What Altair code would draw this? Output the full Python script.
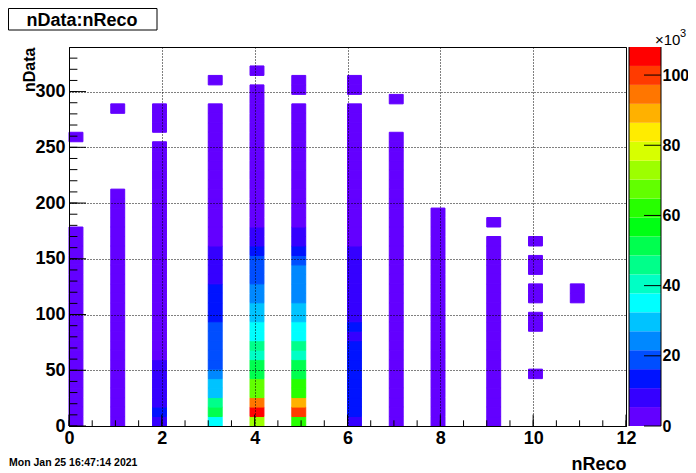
import altair as alt
import pandas as pd
import numpy as np

# ---------------- data (counts in units of 10^3) ----------------
# lower edges of the filled nReco bins (bin width 0.3)
x_low = [0.0, 0.9, 1.8, 3.0, 3.9, 4.8, 6.0, 6.9, 7.8, 9.0, 9.9, 10.8]
x_bin = 0.3
# nData binning: 40 bins of width 8.5 starting at 0
y_bin = 8.5

# one list per nReco bin, nData bin 0 first (40 bins)
c_00 = [2, 2, 2, 2, 2, 2, 2, 2, 2, 2, 2, 2, 2, 2, 2, 2, 2, 2, 2, 2,
        2, 0, 0, 0, 0, 0, 0, 0, 0, 0, 2, 0, 0, 0, 0, 0, 0, 0, 0, 0]
c_09 = [2, 2, 2, 2, 2, 2, 2, 2, 2, 2, 2, 2, 2, 2, 2, 2, 2, 2, 2, 2,
        2, 2, 2, 2, 2, 0, 0, 0, 0, 0, 0, 0, 0, 2, 0, 0, 0, 0, 0, 0]
c_18 = [8, 13.5, 8, 8, 8, 8, 8, 2, 2, 2, 2, 2, 2, 2, 2, 2, 2, 2, 2, 2,
        2, 2, 2, 2, 2, 2, 2, 2, 2, 2, 0, 2, 2, 2, 0, 0, 0, 0, 0, 0]
c_30 = [35, 51, 46, 30, 30, 24, 19, 19, 19, 19, 19, 13.5, 13.5, 13.5, 13.5, 8, 8, 8, 8, 2,
        2, 2, 2, 2, 2, 2, 2, 2, 2, 2, 2, 2, 2, 2, 0, 0, 2, 0, 0, 0]
c_39 = [73, 106, 95, 68, 68, 51, 51, 41, 46, 35, 35, 30, 30, 24, 24, 19, 19, 19, 13.5, 8,
        8, 2, 2, 2, 2, 2, 2, 2, 2, 2, 2, 2, 2, 2, 2, 2, 0, 2, 0, 0]
c_48 = [62, 100, 89, 62, 62, 51, 51, 41, 46, 35, 35, 30, 30, 24, 24, 24, 24, 19, 13.5, 8,
        8, 2, 2, 2, 2, 2, 2, 2, 2, 2, 2, 2, 2, 2, 0, 2, 2, 0, 0, 0]
c_60 = [8, 13.5, 13.5, 13.5, 13.5, 13.5, 13.5, 13.5, 13.5, 8, 13.5, 8, 8, 8, 8, 8, 8, 8, 8, 2,
        2, 2, 2, 2, 2, 2, 2, 2, 2, 2, 2, 2, 2, 2, 0, 2, 2, 0, 0, 0]
c_69 = [2, 2, 2, 2, 2, 2, 2, 2, 2, 2, 2, 2, 2, 2, 2, 2, 2, 2, 2, 2,
        2, 2, 2, 2, 2, 2, 2, 2, 2, 2, 2, 0, 0, 0, 2, 0, 0, 0, 0, 0]
c_78 = [2, 2, 2, 2, 2, 2, 2, 2, 2, 2, 2, 2, 2, 2, 2, 2, 2, 2, 2, 2,
        2, 2, 2, 0, 0, 0, 0, 0, 0, 0, 0, 0, 0, 0, 0, 0, 0, 0, 0, 0]
c_90 = [2, 2, 2, 2, 2, 2, 2, 2, 2, 2, 2, 2, 2, 2, 2, 2, 2, 2, 2, 2,
        0, 2, 0, 0, 0, 0, 0, 0, 0, 0, 0, 0, 0, 0, 0, 0, 0, 0, 0, 0]
c_99 = [0, 0, 0, 0, 0, 2, 0, 0, 0, 0, 2, 2, 0, 2, 2, 0, 2, 2, 0, 2,
        0, 0, 0, 0, 0, 0, 0, 0, 0, 0, 0, 0, 0, 0, 0, 0, 0, 0, 0, 0]
c_108 = [0, 0, 0, 0, 0, 0, 0, 0, 0, 0, 0, 0, 0, 2, 2, 0, 0, 0, 0, 0,
         0, 0, 0, 0, 0, 0, 0, 0, 0, 0, 0, 0, 0, 0, 0, 0, 0, 0, 0, 0]
columns = [c_00, c_09, c_18, c_30, c_39, c_48, c_60, c_69, c_78, c_90, c_99, c_108]

z_max = 108.0
n_levels = 20
palette = ["#6300FF", "#3500FF", "#0013FF", "#004EFF", "#0088FF", "#00C3FF",
           "#00FFFF", "#00FFC5", "#00FF8A", "#00FF4F", "#00FF14", "#27FF00",
           "#62FF00", "#9DFF00", "#D7FF00", "#FFEC00", "#FFB100", "#FF7600",
           "#FF3B00", "#FF0000"]

x_major = [0, 2, 4, 6, 8, 10, 12]
y_major = [0, 50, 100, 150, 200, 250, 300]
z_major = [0, 20, 40, 60, 80, 100]

# ---------------- tables ----------------
rows = []
for xl, col in zip(x_low, columns):
    for k, z in enumerate(col):
        if z > 0:
            rows.append({"x0": xl, "x1": xl + x_bin,
                         "y0": k * y_bin, "y1": (k + 1) * y_bin, "z": z})
cells_df = pd.DataFrame(rows)

step = z_max / n_levels
thresholds = [step * i for i in range(1, n_levels)]
cb_df = pd.DataFrame({"lo": [step * i for i in range(n_levels)],
                      "hi": [step * (i + 1) for i in range(n_levels)],
                      "mid": [step * (i + 0.5) for i in range(n_levels)]})

x_minor_df = pd.DataFrame({"x0": np.arange(0, 12.01, 0.5)})
x_major_df = pd.DataFrame({"x0": x_major})
y_minor_df = pd.DataFrame({"v": np.arange(0, 331, 10)})
y_major_df = pd.DataFrame({"v": y_major})
z_tick_df = pd.DataFrame({"v": z_major})
one = pd.DataFrame({"a": [0]})

# ---------------- chart ----------------
W, H = 557, 379
FONT = "Liberation Sans"
xs = alt.Scale(domain=[0, 12], nice=False, zero=False)
ys = alt.Scale(domain=[0, 340], nice=False, zero=False)
zs = alt.Scale(domain=[0, z_max], nice=False, zero=False)
cscale = alt.Scale(type="threshold", domain=thresholds, range=palette)

grid_kw = dict(grid=True, gridDash=[1, 2], gridColor="black", gridOpacity=1,
               gridWidth=1, ticks=False, tickSize=0, domain=True,
               domainColor="black", domainWidth=1, labelFont=FONT,
               labelFontWeight="bold", labelFontSize=18, labelColor="black",
               labelFlush=False, labelOverlap=False, titleFont=FONT,
               titleFontWeight="bold", titleColor="black", zindex=1)

x_axis = alt.Axis(values=x_major, labelPadding=3, title="nReco",
                  titleFontSize=18, titleAnchor="end", titleAlign="right",
                  titleBaseline="alphabetic", titleX=W, titleY=43, **grid_kw)
y_axis = alt.Axis(values=y_major, labelPadding=4, title="nData",
                  titleFontSize=16, titleAnchor="end", titleAngle=270,
                  titleAlign="right", titleBaseline="alphabetic",
                  titleX=-35, titleY=0, **grid_kw)

cells = alt.Chart(cells_df).mark_rect(strokeWidth=1).encode(
    x=alt.X("x0:Q", scale=xs, axis=x_axis),
    x2="x1:Q",
    y=alt.Y("y0:Q", scale=ys, axis=y_axis),
    y2="y1:Q",
    color=alt.Color("z:Q", scale=cscale, legend=None),
    stroke=alt.Stroke("z:Q", scale=cscale, legend=None),
)

xt_minor = alt.Chart(x_minor_df).mark_rule(color="black").encode(
    x=alt.X("x0:Q", scale=xs, axis=x_axis), y=alt.value(H), y2=alt.value(H - 5.7))
xt_major = alt.Chart(x_major_df).mark_rule(color="black").encode(
    x=alt.X("x0:Q", scale=xs, axis=x_axis), y=alt.value(H), y2=alt.value(H - 11.4))
yt_minor = alt.Chart(y_minor_df).mark_rule(color="black").encode(
    y=alt.Y("v:Q", scale=ys, axis=None), x=alt.value(0), x2=alt.value(8.4))
yt_major = alt.Chart(y_major_df).mark_rule(color="black").encode(
    y=alt.Y("v:Q", scale=ys, axis=None), x=alt.value(0), x2=alt.value(17))

cbar = alt.Chart(cb_df).mark_rect().encode(
    x=alt.value(560), x2=alt.value(592),
    y=alt.Y("lo:Q", scale=zs, axis=alt.Axis(
        orient="right", offset=35, values=z_major, ticks=False, tickSize=0,
        domain=False, grid=False, labelFont=FONT, labelFontWeight="bold",
        labelFontSize=16, labelColor="black", labelPadding=1,
        labelFlush=False, labelOverlap=False, title=None)),
    y2="hi:Q",
    color=alt.Color("mid:Q", scale=cscale, legend=None),
)
cbar_ticks = alt.Chart(z_tick_df).mark_rule(color="black").encode(
    y=alt.Y("v:Q", scale=zs, axis=None), x=alt.value(575), x2=alt.value(592))
cbar_left = alt.Chart(one).mark_rule(color="black").encode(
    x=alt.value(560), y=alt.value(0), y2=alt.value(H))
cbar_right = alt.Chart(one).mark_rule(color="black").encode(
    x=alt.value(592), y=alt.value(0), y2=alt.value(H))

exp_main = alt.Chart(one).mark_text(
    text="×10", font=FONT, fontSize=15, align="left", baseline="alphabetic",
    color="black").encode(x=alt.value(586), y=alt.value(-2))
exp_sup = alt.Chart(one).mark_text(
    text="3", font=FONT, fontSize=11, align="left", baseline="alphabetic",
    color="black").encode(x=alt.value(611), y=alt.value(-10))

title_box = alt.Chart(one).mark_rect(fill="white", stroke="black", strokeWidth=1).encode(
    x=alt.value(-60.5), x2=alt.value(88), y=alt.value(-38.5), y2=alt.value(-17))
title_txt = alt.Chart(one).mark_text(
    text="nData:nReco", font=FONT, fontSize=18, fontWeight="bold",
    align="center", baseline="alphabetic", color="black").encode(
    x=alt.value(13), y=alt.value(-21.5))
date_txt = alt.Chart(one).mark_text(
    text="Mon Jan 25 16:47:14 2021", font=FONT, fontSize=10.5, fontWeight="bold",
    align="left", baseline="alphabetic", color="black").encode(
    x=alt.value(-60), y=alt.value(419))

chart = alt.layer(
    cells, xt_minor, xt_major, yt_minor, yt_major,
    cbar, cbar_ticks, cbar_left, cbar_right, exp_main, exp_sup,
    title_box, title_txt, date_txt,
).resolve_scale(y="independent").properties(
    width=W, height=H,
    autosize=alt.AutoSizeParams(type="none"),
    padding={"left": 61, "top": 39, "right": 62, "bottom": 48},
    background="white",
).configure_view(stroke="black", strokeWidth=1)

chart.save("out.html", embed_options={"renderer": "svg", "actions": False})
